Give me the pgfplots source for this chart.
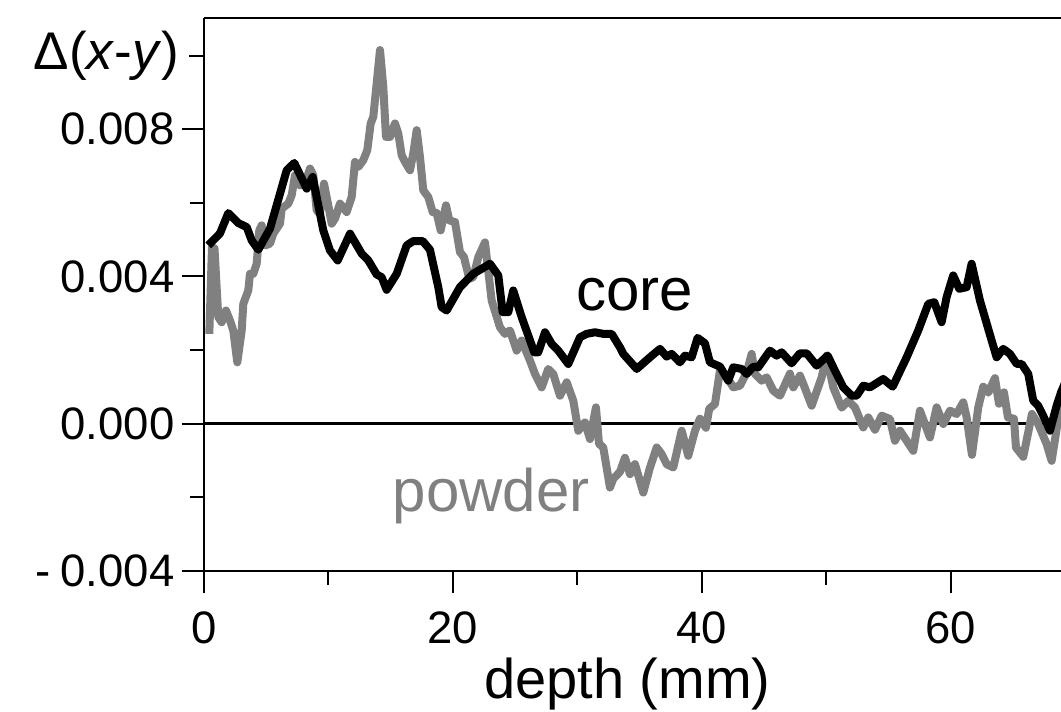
\documentclass[border=0pt]{standalone}
\usepackage{fontspec}
\setmainfont{Liberation Sans}
\usepackage{pgfplots}
\pgfplotsset{compat=1.18}
\usepackage{pgfplotstable}

\definecolor{powdergrey}{HTML}{808080}

% Delta(x-y) against depth for the core sample
\pgfplotstableread{
depth dxy
0.345 0.004844
1.285 0.005170
1.952 0.005722
2.755 0.005450
3.430 0.005341
3.831 0.004980
4.361 0.004727
5.301 0.005298
6.104 0.006250
6.643 0.006884
7.253 0.007083
8.249 0.006386
8.731 0.006702
9.582 0.005252
10.12 0.004707
10.74 0.004435
11.73 0.005162
12.67 0.004618
13.20 0.004435
13.87 0.004054
14.27 0.003981
14.67 0.003638
15.48 0.004073
16.28 0.004844
16.81 0.004961
17.57 0.004961
18.15 0.004727
18.82 0.003709
19.09 0.003165
19.49 0.003075
20.56 0.003709
21.63 0.004073
22.31 0.004209
22.97 0.004346
23.64 0.004027
23.99 0.003029
24.44 0.003029
24.84 0.003619
25.52 0.002893
26.53 0.001940
26.85 0.001940
27.39 0.002484
27.93 0.002169
28.46 0.001986
29.26 0.001624
30.20 0.002348
30.74 0.002441
31.41 0.002484
32.07 0.002441
32.75 0.002441
33.41 0.002076
33.68 0.001897
34.76 0.001488
35.82 0.001804
36.63 0.002033
37.16 0.001823
37.57 0.001897
38.23 0.001668
38.63 0.001850
39.17 0.001804
39.65 0.002332
40.24 0.002185
40.64 0.001668
41.45 0.001551
42.11 0.001170
42.51 0.001532
43.19 0.001488
43.59 0.001352
44.12 0.001551
44.52 0.001532
45.46 0.001986
46.00 0.001850
46.40 0.001940
47.20 0.001641
47.87 0.001913
48.41 0.001913
49.21 0.001578
50.10 0.001850
50.55 0.001532
51.35 0.000988
52.02 0.000762
52.43 0.000762
52.96 0.001034
53.49 0.000988
54.56 0.001216
55.32 0.001007
56.44 0.001804
57.37 0.002531
58.18 0.003257
58.66 0.003301
59.25 0.002757
59.65 0.003437
60.18 0.004027
60.67 0.003665
61.26 0.003709
61.66 0.004346
62.33 0.003347
63.27 0.002259
63.67 0.001804
64.20 0.002033
64.74 0.001897
65.28 0.001624
65.68 0.001624
66.21 0.001352
66.61 0.000626
67.01 0.000490
67.41 0.000218
67.95 -0.000190
68.49 0.000490
68.84 0.000852
69.24 0.001170
}\coredata

% Delta(x-y) against depth for the powdered sample
\pgfplotstableread{
depth dxy
0.426 0.002441
0.643 0.004797
0.843 0.004762
1.149 0.002893
1.422 0.002757
1.767 0.003075
2.088 0.002803
2.353 0.002531
2.675 0.001668
3.028 0.002531
3.157 0.003257
3.558 0.003619
3.695 0.004073
3.960 0.004073
4.233 0.004346
4.442 0.005252
4.635 0.005388
4.900 0.004844
5.301 0.004890
5.566 0.005162
6.104 0.005434
6.241 0.005842
6.771 0.005978
7.044 0.006204
7.309 0.006748
7.711 0.006476
8.112 0.006522
8.514 0.006931
8.779 0.006748
9.052 0.005796
9.317 0.005706
9.639 0.006522
9.984 0.005932
10.257 0.005434
10.522 0.005570
10.924 0.005978
11.462 0.005750
11.863 0.006158
12.129 0.007110
12.394 0.006974
12.795 0.007156
13.116 0.007429
13.389 0.008155
13.598 0.008335
13.871 0.009243
14.137 0.010150
14.402 0.009151
14.618 0.007790
14.940 0.007790
15.341 0.008155
15.606 0.007883
15.880 0.007293
16.145 0.007110
16.546 0.006884
16.811 0.007339
17.084 0.007973
17.349 0.007246
17.614 0.006340
18.016 0.006158
18.369 0.005750
18.691 0.005722
19.012 0.005252
19.438 0.005932
19.703 0.005524
20.161 0.005478
20.562 0.004661
20.884 0.004525
21.309 0.003937
21.631 0.003981
22.032 0.004525
22.570 0.004925
23.108 0.003347
23.775 0.002620
24.177 0.002441
24.578 0.002531
25.116 0.001986
25.518 0.002259
26.185 0.001714
26.586 0.001352
27.124 0.000988
27.655 0.001488
28.056 0.001352
28.594 0.000762
29.133 0.001124
29.663 0.000626
30.064 -0.000190
30.602 0.000035
31.004 -0.000416
31.486 0.000444
31.727 -0.000544
32.072 -0.000645
32.610 -0.001733
32.875 -0.001497
33.414 -0.001306
33.815 -0.000925
34.217 -0.001369
34.618 -0.001097
35.285 -0.001869
35.823 -0.001189
36.361 -0.000645
36.763 -0.000824
37.165 -0.001097
37.695 -0.001189
38.369 -0.000190
38.899 -0.000871
39.438 -0.000190
39.839 0.000136
40.321 -0.000109
40.586 0.000408
41.044 0.000536
41.446 0.001442
41.984 0.001279
42.514 0.000988
43.052 0.001034
43.590 0.001388
43.992 0.001897
44.257 0.001352
44.795 0.001170
45.197 0.001260
45.727 0.000898
46.265 0.000762
47.068 0.001361
47.333 0.000988
47.871 0.001306
48.193 0.001034
48.811 0.000490
49.614 0.001260
50.016 0.001850
50.546 0.000988
51.221 0.000435
51.751 0.000626
52.289 0.000444
52.956 -0.000101
53.357 0.000171
53.896 -0.000163
54.434 0.000218
55.100 0.000128
55.502 -0.000463
55.904 -0.000190
56.442 -0.000463
56.972 -0.000735
57.510 0.000354
58.313 -0.000373
58.851 0.000444
59.382 -0.000008
59.920 0.000354
60.458 0.000264
60.988 0.000580
61.261 0.000171
61.687 -0.000844
62.193 0.000444
62.594 0.001007
62.996 0.000844
63.534 0.001238
63.855 0.000544
64.257 0.000852
64.578 0.000171
65.060 0.000136
65.221 -0.000645
65.807 -0.000898
66.506 0.000264
67.012 -0.000008
67.687 -0.000552
68.088 -0.001007
68.618 0.000136
68.996 0.000626
}\powderdata

\begin{document}
\begin{tikzpicture}
\begin{axis}[
  scale only axis,
  width=857pt, height=553pt,
  xmin=0, xmax=68.84,
  ymin=-0.004, ymax=0.01102,
  axis x line*=bottom, axis y line*=left,
  axis line style={line width=2pt, black},
  tick align=outside,
  major tick length=22pt, minor tick length=14pt,
  every tick/.style={line width=2pt, black},
  scaled y ticks=false, scaled x ticks=false,
  xtick={0,20,40,60}, xticklabels={0,20,40,60},
  minor xtick={10,30,50},
  ytick={-0.004,0,0.004,0.008},
  yticklabels={-\hspace{0.22em}0.004,0.000,0.004,0.008},
  minor ytick={-0.002,0.002,0.006},
  extra y ticks={0.010},
  extra y tick labels={Δ(\textit{x}-\textit{y})},
  extra y tick style={major tick length=15pt,
    yticklabel style={font=\fontsize{53}{60}\selectfont, xshift=-2pt}},
  tick label style={font=\fontsize{45.5}{52}\selectfont, black},
  xticklabel style={yshift=-15pt},
  yticklabel style={xshift=-4pt},
  clip mode=individual,
]
  \addplot[black, line width=2.5pt, forget plot] coordinates {(0,0) (70,0)};
  \addplot[powdergrey, line width=8pt, line join=round] table[x=depth, y=dxy] {\powderdata};
  \addplot[black, line width=8pt, line join=round] table[x=depth, y=dxy] {\coredata};
  \draw[line width=2pt, black] (rel axis cs:0,1) -- (rel axis cs:1,1);
  \node[anchor=base, font=\fontsize{60}{66}\selectfont, black] at (axis cs:34.58,0.003075) {core};
  \node[anchor=base, font=\fontsize{60}{66}\selectfont, text=powdergrey] at (axis cs:23.06,-0.002395) {powder};
  \node[anchor=base, font=\fontsize{56}{62}\selectfont, black, yshift=-127pt] at (rel axis cs:0.494,0) {depth (mm)};
\end{axis}
\pgfresetboundingbox
\path (-204pt,-141pt) rectangle (857pt,571pt);
\end{tikzpicture}
\end{document}
